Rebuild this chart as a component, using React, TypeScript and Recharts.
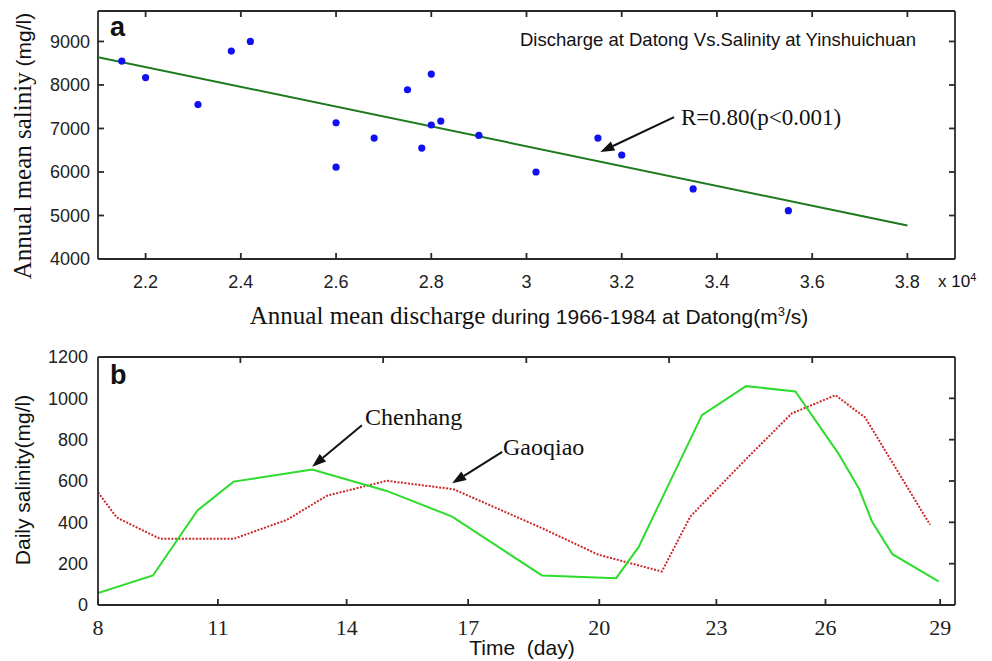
import React from 'react';
import { ScatterChart, Scatter, LineChart, Line, XAxis, YAxis, ReferenceLine } from 'recharts';

// panel a: annual mean discharge (x 10^4 m3/s) vs annual mean salinity (mg/l)
const dischargeX = [2.15, 2.2, 2.31, 2.38, 2.42, 2.6, 2.6, 2.68, 2.75, 2.8, 2.8, 2.82, 2.78, 2.9, 3.02, 3.15, 3.2, 3.35, 3.55];
const salinityY = [8550, 8170, 7550, 8780, 9000, 7130, 6110, 6780, 7890, 8250, 7080, 7170, 6550, 6840, 6000, 6780, 6390, 5610, 5110];
const fitX = [2.1, 3.8];
const fitY = [8640, 4770];
const dischargeDomain = [2.1, 3.9];
const salinityDomain = [4000, 9700];
const dischargeTicks = [2.2, 2.4, 2.6, 2.8, 3, 3.2, 3.4, 3.6, 3.8];
const salinityTicks = [4000, 5000, 6000, 7000, 8000, 9000];
const arrowA = { from: [3.31, 7260], to: [3.155, 6460] };

// panel b: daily salinity at two stations
const chenhangDay = [8, 9.37, 10.48, 11.38, 13.34, 15.2, 16.83, 19.07, 20.92, 21.48, 23.06, 24.16, 25.39, 26.46, 26.98, 27.3, 27.81, 28.96];
const chenhangSal = [58, 143, 457, 597, 656, 552, 428, 143, 130, 280, 919, 1059, 1033, 734, 561, 404, 246, 114];
const gaoqiaoDay = [8, 8.47, 9.55, 11.38, 12.71, 13.71, 15.2, 16.87, 19.07, 20.48, 22.06, 22.77, 24.18, 25.3, 26.39, 27.13, 28.75];
const gaoqiaoSal = [545, 423, 320, 320, 412, 529, 601, 560, 372, 243, 162, 428, 710, 927, 1015, 907, 388];
const dayDomain = [8, 29.37];
const dailyDomain = [0, 1200];
const dayTickLabels = ['8', '11', '14', '17', '20', '23', '26', '29'];
const dayTickAt = [8, 10.99, 14.2, 17.23, 20.5, 23.42, 26.14, 29];
const dayTopTicks = [11.55, 15.11, 18.68, 22.24, 25.81];
const dailyTicks = [0, 200, 400, 600, 800, 1000, 1200];
const arrowChenhang = { from: [14.58, 870], to: [13.34, 669] };
const arrowGaoqiao = { from: [18.08, 741], to: [16.83, 589] };

const points = dischargeX.map((x, i) => ({ x, y: salinityY[i] }));
const fit = fitX.map((x, i) => ({ x, y: fitY[i] }));
const chenhang = chenhangDay.map((x, i) => ({ x, y: chenhangSal[i] }));
const gaoqiao = gaoqiaoDay.map((x, i) => ({ x, y: gaoqiaoSal[i] }));

const SANS = '"Liberation Sans", Arial, sans-serif';
const SERIF = '"Liberation Serif", "Times New Roman", serif';
const INK = '#2a2a2a';
const frame = { stroke: INK, strokeWidth: 1.8 };
const sansTick = { fontSize: 18, fill: '#222', fontFamily: SANS };
const serifTick = { fontSize: 22, fill: '#222', fontFamily: SERIF };

// plot boxes (chart width minus margins and axis sizes)
const W = 992;
const M_RIGHT = 37;
const Y_AXIS_W = 98;
const boxA = { left: Y_AXIS_W, right: W - M_RIGHT, top: 11, bottom: 304 - 45 };
const boxB = { left: Y_AXIS_W, right: W - M_RIGHT, top: 330 + 27, bottom: 330 + 331 - 56 };

const Arrow = (p: any) => {
  const { x1, y1, x2, y2 } = p;
  const a = Math.atan2(y2 - y1, x2 - x1);
  const L = 14, Wd = 5;
  const bx = x2 - L * Math.cos(a), by = y2 - L * Math.sin(a);
  const nx = -Math.sin(a) * Wd, ny = Math.cos(a) * Wd;
  return (
    <g>
      <line x1={x1} y1={y1} x2={bx} y2={by} stroke="#111" strokeWidth={2} />
      <polygon points={`${x2},${y2} ${bx + nx},${by + ny} ${bx - nx},${by - ny}`} fill="#111" />
    </g>
  );
};

// top and right edges of the box, with inward ticks
const FrameEdges = ({ box, xd, yd, xs, ys }: any) => {
  const px = (v: number) => box.left + ((v - xd[0]) / (xd[1] - xd[0])) * (box.right - box.left);
  const py = (v: number) => box.bottom - ((v - yd[0]) / (yd[1] - yd[0])) * (box.bottom - box.top);
  return (
    <g stroke={INK} strokeWidth={1.8}>
      <line x1={box.left} x2={box.right} y1={box.top} y2={box.top} />
      <line x1={box.right} x2={box.right} y1={box.top} y2={box.bottom} />
      {xs.map((v: number) => <line key={`x${v}`} x1={px(v)} x2={px(v)} y1={box.top} y2={box.top + 6} />)}
      {ys.map((v: number) => <line key={`y${v}`} x1={box.right - 6} x2={box.right} y1={py(v)} y2={py(v)} />)}
    </g>
  );
};

const Txt = ({ x, y, size, font, bold, children, rotate, center }: any) => (
  <div
    style={{
      position: 'absolute', left: x, top: y, fontSize: size, fontFamily: font, lineHeight: 1,
      fontWeight: bold ? 'bold' : 'normal', whiteSpace: 'nowrap', color: '#111',
      transform: rotate ? 'translate(-50%,-50%) rotate(-90deg)' : center ? 'translate(-50%,-50%)' : 'translateY(-50%)',
    }}
  >
    {children}
  </div>
);

export default function App() {
  return (
    <div style={{ position: 'absolute', left: 0, top: 0, width: 992, height: 661, background: '#fff', overflow: 'hidden' }}>
      <div style={{ position: 'absolute', left: 0, top: 0 }}>
        <ScatterChart width={W} height={304} margin={{ top: 11, right: M_RIGHT, bottom: 0, left: 0 }}>
          <XAxis type="number" dataKey="x" domain={dischargeDomain} ticks={dischargeTicks} allowDataOverflow
            height={45} tickSize={-6} tickMargin={22} axisLine={frame} tickLine={frame} tick={sansTick} />
          <YAxis type="number" dataKey="y" domain={salinityDomain} ticks={salinityTicks} allowDataOverflow
            width={Y_AXIS_W} tickSize={-6} tickMargin={14} axisLine={frame} tickLine={frame} tick={sansTick} />
          <Scatter data={fit} line={{ stroke: '#1c7a1c', strokeWidth: 2 }} shape={() => <g />} isAnimationActive={false} />
          <Scatter data={points} fill="#1010f0" isAnimationActive={false}
            shape={(p: any) => <circle cx={p.cx} cy={p.cy} r={3.6} fill="#1010f0" />} />
          <ReferenceLine segment={[{ x: arrowA.from[0], y: arrowA.from[1] }, { x: arrowA.to[0], y: arrowA.to[1] }]} shape={Arrow} />
        </ScatterChart>
      </div>

      <div style={{ position: 'absolute', left: 0, top: 330 }}>
        <LineChart width={W} height={331} margin={{ top: 27, right: M_RIGHT, bottom: 0, left: 0 }}>
          <XAxis type="number" dataKey="x" domain={dayDomain} ticks={dayTickAt} allowDataOverflow
            tickFormatter={(v: number) => dayTickLabels[dayTickAt.indexOf(v)]}
            height={56} tickSize={-6} tickMargin={20} axisLine={frame} tickLine={frame} tick={serifTick} />
          <YAxis type="number" dataKey="y" domain={dailyDomain} ticks={dailyTicks} allowDataOverflow
            width={Y_AXIS_W} tickSize={0} tickMargin={10} axisLine={frame} tickLine={false} tick={sansTick} />
          <Line data={gaoqiao} dataKey="y" type="linear" stroke="#cc2a2a" strokeWidth={2} strokeDasharray="2 1.5" dot={false} isAnimationActive={false} />
          <Line data={chenhang} dataKey="y" type="linear" stroke="#2ddc2d" strokeWidth={2} dot={false} isAnimationActive={false} />
          <ReferenceLine segment={[{ x: arrowChenhang.from[0], y: arrowChenhang.from[1] }, { x: arrowChenhang.to[0], y: arrowChenhang.to[1] }]} shape={Arrow} />
          <ReferenceLine segment={[{ x: arrowGaoqiao.from[0], y: arrowGaoqiao.from[1] }, { x: arrowGaoqiao.to[0], y: arrowGaoqiao.to[1] }]} shape={Arrow} />
        </LineChart>
      </div>

      {/* frame overlay: top and right edges of both panels */}
      <svg width={992} height={661} style={{ position: 'absolute', left: 0, top: 0, pointerEvents: 'none' }}>
        <FrameEdges box={boxA} xd={dischargeDomain} yd={salinityDomain} xs={dischargeTicks} ys={salinityTicks.slice(1)} />
        <FrameEdges box={boxB} xd={dayDomain} yd={dailyDomain} xs={dayTopTicks} ys={dailyTicks.slice(1, -1)} />
      </svg>

      <Txt x={110} y={27} size={27} font={SANS} bold>a</Txt>
      <Txt x={520} y={40} size={18.5} font={SANS}>Discharge at Datong Vs.Salinity at Yinshuichuan</Txt>
      <Txt x={681} y={117} size={23} font={SERIF}>R=0.80(p&lt;0.001)</Txt>
      <Txt x={22} y={146} rotate>
        <span style={{ fontFamily: SERIF, fontSize: 25 }}>Annual mean saliniy</span>
        <span style={{ fontFamily: SANS, fontSize: 21 }}> (mg/l)</span>
      </Txt>
      <Txt x={529} y={315} center>
        <span style={{ fontFamily: SERIF, fontSize: 25 }}>Annual mean discharge </span>
        <span style={{ fontFamily: SANS, fontSize: 21 }}>during 1966-1984 at Datong(m<sup style={{ fontSize: 13 }}>3</sup>/s)</span>
      </Txt>
      <Txt x={938} y={281} size={17} font={SANS}>x 10<sup style={{ fontSize: 11 }}>4</sup></Txt>

      <Txt x={110} y={375} size={27} font={SANS} bold>b</Txt>
      <Txt x={365} y={417} size={24} font={SERIF}>Chenhang</Txt>
      <Txt x={503} y={447} size={24} font={SERIF}>Gaoqiao</Txt>
      <Txt x={22} y={480} size={21} font={SANS} rotate>Daily salinity(mg/l)</Txt>
      <Txt x={522} y={647} size={21} font={SANS} center>Time&nbsp;&nbsp;(day)</Txt>
    </div>
  );
}
